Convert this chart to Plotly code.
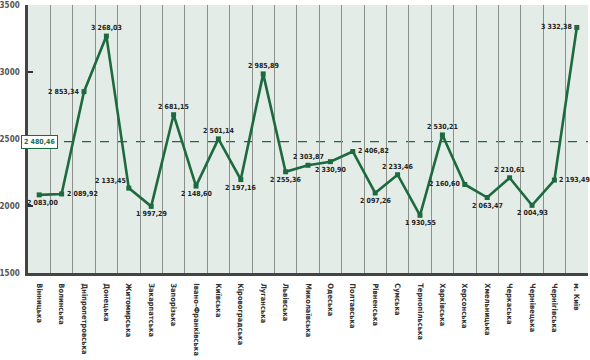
import plotly.graph_objects as go

regions = ["Вінницька", "Волинська", "Дніпропетровська", "Донецька", "Житомирська",
           "Закарпатська", "Запорізька", "Івано-Франківська", "Київська", "Кіровоградська",
           "Луганська", "Львівська", "Миколаївська", "Одеська", "Полтавська",
           "Рівненська", "Сумська", "Тернопільська", "Харківська", "Херсонська",
           "Хмельницька", "Черкаська", "Чернівецька", "Чернігівська", "м. Київ"]
salary = [2083.00, 2089.92, 2853.34, 3268.03, 2133.45,
          1997.29, 2681.15, 2148.60, 2501.14, 2197.16,
          2985.89, 2255.36, 2303.87, 2330.90, 2406.82,
          2097.26, 2233.46, 1930.55, 2530.21, 2160.60,
          2063.47, 2210.61, 2004.93, 2193.49, 3332.38]
average = 2480.46
y_ticks = [1500, 2000, 2500, 3000, 3500]

label_pos = ["below", "right", "left", "above", "upleft",
             "below", "above", "below", "above", "below",
             "above", "below", "above", "below", "right",
             "below", "above", "below", "above", "left",
             "below", "above", "below", "right", "left"]

POS = {
    "below": dict(xanchor="center", yanchor="top", xshift=0, yshift=-3),
    "above": dict(xanchor="center", yanchor="bottom", xshift=0, yshift=3),
    "right": dict(xanchor="left", yanchor="middle", xshift=4, yshift=0),
    "left": dict(xanchor="right", yanchor="middle", xshift=-4, yshift=0),
    "upleft": dict(xanchor="right", yanchor="bottom", xshift=-2, yshift=2),
}


def fmt(v):
    s = f"{v:,.2f}"
    return s.replace(",", " ").replace(".", ",")


GREEN = "#1d6a3e"
FONT = "Liberation Sans Narrow, DejaVu Sans Condensed, Arial Narrow, sans-serif"

fig = go.Figure()
fig.add_trace(go.Scatter(
    x=regions, y=salary, mode="lines+markers",
    line=dict(color=GREEN, width=2.6),
    marker=dict(symbol="square", size=5, color=GREEN),
    cliponaxis=False,
    showlegend=False,
))

for i, (r, v) in enumerate(zip(regions, salary)):
    p = dict(POS[label_pos[i]])
    if i == 0:
        p["xshift"] = 3
    fig.add_annotation(x=r, y=v, text=f"<b>{fmt(v)}</b>", showarrow=False,
                       font=dict(family=FONT, size=7, color="#222222"),
                       borderpad=0, **p)

fig.add_shape(type="line", xref="paper", yref="y", x0=0, x1=1, y0=average, y1=average,
              line=dict(color=GREEN, width=1.2, dash="dash"), layer="below")
fig.add_annotation(xref="paper", yref="y", x=0, y=average, xanchor="left", xshift=-7,
                   text=f"<b>{fmt(average)}</b>", showarrow=False,
                   font=dict(family=FONT, size=7, color=GREEN),
                   bgcolor="white", bordercolor=GREEN, borderwidth=1, borderpad=2)

fig.update_layout(
    width=590, height=360,
    margin=dict(l=28, r=2, t=5, b=87),
    paper_bgcolor="white",
    plot_bgcolor="#e4ece7",
    font=dict(family=FONT),
)
fig.update_xaxes(
    type="category", tickson="boundaries", showgrid=True, gridcolor="#8a8f8c", gridwidth=1.2,
    tickangle=90, ticks="", tickfont=dict(family=FONT, size=7.5, color="#333333"),
    ticktext=[f"<b>{r}</b>" for r in regions], tickvals=regions,
    showline=True, linecolor="#444444", linewidth=2.5, range=[-0.5, 24.5],
    ticklabelstandoff=6, automargin=False,
)
fig.update_yaxes(
    range=[1500, 3500], tickvals=y_ticks, ticktext=[f"<b>{t}</b>" for t in y_ticks],
    showgrid=False, ticks="inside", ticklen=5, tickwidth=2, tickcolor="#333333",
    tickfont=dict(family=FONT, size=8, color="#555555"),
    showline=True, linecolor="#444444", linewidth=2.5, zeroline=False,
    ticklabelstandoff=4, automargin=False,
)

fig.write_html("out.html")
